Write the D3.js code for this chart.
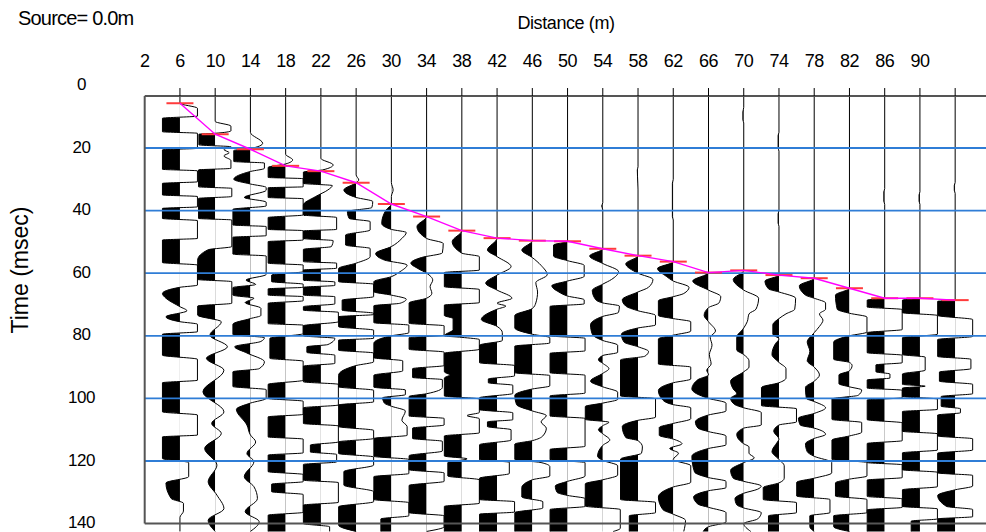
<!DOCTYPE html>
<html><head><meta charset="utf-8">
<script src="https://cdn.jsdelivr.net/npm/d3@7"></script>
<style>
body{margin:0;background:#fff}
svg{display:block}
text{font-family:"Liberation Sans",Arial,sans-serif;fill:#000}
</style>
</head><body>
<svg id="c" width="986" height="532"></svg>
<script>
// ---------- data ----------
const sourceLabel = "Source= 0.0m";
const xTitle = "Distance (m)";
const yTitle = "Time (msec)";
const distanceLabels = [2,6,10,14,18,22,26,30,34,38,42,46,50,54,58,62,66,70,74,78,82,86,90];
const traceDistances = [6,10,14,18,22,26,30,34,38,42,46,50,54,58,62,66,70,74,78,82,86,90,94];
const timeTicks = [0,20,40,60,80,100,120,140];
const gridTimes = [20,40,60,80,100,120];
const pickTimes = [5.7,15.6,20.4,25.7,27.4,31.1,37.9,41.9,46.4,48.8,49.6,49.8,52.2,54.4,56.3,59.8,59.1,60.6,61.6,64.8,68,68,68.6];
// waveform breakpoints per trace, "time(ms):normalised amplitude" (negative = left, filled)
const traceWaves = [
"3.4:0 5.7:0 7.3:1 9.8:1 10.5:-1 14.8:-1 15.3:1 20.1:1 20.6:-1 26.8:-1 27.3:1 30.8:1 31.3:-1 35:-1 35.5:1 38.8:1 39.3:-1 42.5:-1 43.2:1 48.9:1 49.4:-1 56.6:-1 57.4:1 63.8:1 64.5:0 66.5:-1 68:-0.8 70.7:0 72:0.4 73.9:-0.8 75.5:0 76.3:1 78.7:1 79.5:-1 86.2:-1 87.5:1 94.2:1 95:-1 104.3:-1 105.3:1 111.7:1 112.3:-1 119.2:-1 120.5:0.5 125:0.5 127:-0.8 132:-0.5 133.5:0.2 136:0.2 138:0 142.5:0",
"3.4:0 11.5:0 13:0.9 14.5:0.9 15.3:0 15.6:-0.93 19:-0.93 19.6:0.9 20.5:0.5 21.5:0.8 22.5:0.5 24:0.9 26.5:0.9 27:-0.95 32.4:-0.95 32.9:0.95 35.5:0.95 36.1:-0.95 42.5:-0.95 43:0.95 51.5:0.95 52.5:-0.4 55.8:-1 62:-1 62.7:0.95 69.6:0.95 70.5:-1 73.4:-1 75.5:0.35 79.8:-0.3 83.5:0.7 87.2:-0.5 91:0.5 97.9:-0.7 104.3:0.5 108:-0.2 111.2:0.35 116:-0.6 121.3:0.1 126.6:-0.4 130.9:0.1 135.2:0.5 138.9:-0.4 142.5:0",
"3.4:0 15:0 18.5:0.7 20.2:0 20.8:-0.95 24.3:-0.95 24.8:0.8 26.5:0.8 27.5:0 30:-0.95 31.5:0 32.6:0.9 33.5:0.9 35.8:-0.35 37.3:0.9 38.5:0.9 39.6:-1 44.6:-1 45.1:0.9 48:0.9 48.5:-1 53.9:-1 54.5:0.9 60.4:0.9 62.2:-0.25 63.6:0.3 64.6:-1 67:-1 68:0.2 69.4:-0.3 71.2:0.6 73.5:0.6 74.5:0 76.3:-1 79.6:-1 80.6:0.8 81.8:0.6 83.5:-0.9 85.5:-0.2 88.3:0.8 90.5:0.5 91.5:-1 96.2:-1 97.2:0.9 100:0.9 101.5:0 103.5:-0.8 108.5:-0.2 111.7:0 113.9:0.3 117.6:-0.2 120.2:0.2 125:-0.35 128.2:0.2 132:0.4 136.2:-0.3 139.4:0.5 142.5:0",
"3.4:0 22:0 23.8:0.4 25.1:0 26.2:-1 29.4:-1 29.8:1 32.4:1 32.7:-1 35.8:-1 36.2:1 41.4:1 42.2:-1 46:-1 46.4:1 49.4:1 49.9:-1 56.8:-1 57.4:1 59.5:1 60.6:-0.8 62.7:-0.8 63.5:1 64.5:1 65:-1 67:-1 67.5:1 68.8:1 69.6:-1 76.1:-1 76.6:1 79.3:1 80.8:-0.9 87.2:-0.9 88.1:1 94.2:1 95.5:-1 100:-1 100.9:1 105.1:1 105.9:-1 112.3:-1 113:1 117.4:1 118.1:-1 123.4:-1 124.3:1 126.6:1 127.4:-0.8 129.8:-0.8 130.7:1 136.4:1 137.3:-1 142.5:-1",
"3.4:0 23.3:0 25.4:0.7 27:0.1 27.7:-1 31.3:-1 32:0.65 33.4:0.4 35.5:-0.3 38.2:-1 41.4:-1 42.2:0.9 46:0.9 46.5:-1 48.9:-1 49.6:0.7 51.5:0.6 52.4:-1 56.3:-1 56.8:0.9 58.4:0.9 59:-1 62.2:-1 62.8:0.8 63.9:0.8 64.5:-1 67:-1 67.5:0.8 69.8:0.8 70.7:-1 71.8:-1 72.5:1 75.5:1 76.8:-1 80:-1 80.8:0.8 82.8:0.4 83.5:-0.8 85.3:-0.8 86.2:0.8 88.8:0.8 89.7:-1 94.7:-1 95.5:1 102.1:1 103:-1 108:-1 108.8:1 113.9:1 114.9:-0.6 117.1:-0.6 117.9:0.9 120.3:0.9 121.1:-1 126.1:-1 126.9:1 133.2:1 134.1:-1 140:-1 141:0.5 142.5:0.5",
"3.4:0 28.6:0 30.2:0.15 31.1:0 33.4:-0.7 35.8:0 37.1:0.95 39:0.9 40.3:-0.5 42.5:-0.4 43.5:0.8 46.2:0.8 47.8:-0.6 51:-0.6 52.1:0.8 54.7:0.8 56.8:0 58.5:-1 62.7:-1 63.5:1 67.5:1 68.6:-0.8 71.8:-0.8 72.8:1 73.2:1 73.9:-1 77.1:-1 78.2:1 80.8:1 81.4:-1 84.6:-1 85.5:1 88.3:1 89.5:0 92.6:-1 96.3:-1 97.4:1 101.1:1 102.1:-1 109:-1 110.2:1 112.8:1 113.9:-1 117.6:-1 118.7:1 121.3:1 123.4:-0.7 127.7:-0.7 129.8:1 133:1 134.6:-1 140.5:-1 142.5:0",
"3.4:0 31:0 33.4:0.1 35.5:0 37.9:0 39.8:-0.3 44.1:-0.55 46:0 47:0.85 48.9:0.6 51.5:0 53.7:-0.9 55.8:-0.4 57.4:0.9 59.5:0.5 61.1:0 62.7:-1 65.9:-1 67:0 68.3:0.85 69.6:0.5 70.4:-1 75.8:-1 76.6:1 79:1 80:0 82.4:-1 87:-1 88:0.65 91.2:0.65 92.6:-1 96.4:-1 97.3:0.8 98.8:0.8 99.8:-0.5 101.5:-0.4 102.5:0 104:0.8 107:0.6 109:0.9 111.8:0.9 112.8:-1 118.5:-1 119.5:1 124:1 125:-1 132.3:-1 133.3:1 137.5:1 138.5:-0.6 142.5:-0.6",
"3.4:0 41.9:0 45.1:-0.55 48.9:0 50.5:0.95 53.5:0.9 55:-0.3 56.8:-0.9 58.5:-0.5 60:0 62.2:0.35 64.3:0.2 66.4:0.3 68:0 69.5:-1 76:-1 76.8:1 79.8:1 80.6:-1 84.3:-1 85.2:1 89.5:1 90.5:-0.8 93.3:-0.8 94:0.9 96.5:0.9 98.5:0 99.4:-1 105.6:-1 106.4:1 108.5:1 109.5:-0.8 112.8:-0.8 113.7:0.9 116.8:0.9 118.3:-1 122.8:-1 123.8:1 126.5:1 127.8:-1 136.5:-1 137.5:1 141:1 142.5:0",
"3.4:0 46.4:0 49.9:-0.55 53.6:0 54.7:1 59:1 59.8:-1 64.3:-1 65.2:1 69.4:1 70.2:-1 73.5:-1 74.5:-0.5 78:-0.5 80:-1 80.5:0 81.2:1 84.3:1 85.6:-1 91.5:-1 92.5:-0.7 93.5:-1 99.2:-1 100.2:1 104.5:1 105.5:0.3 106.5:1 111:1 112:-1 118.4:-1 119.3:0.3 120.5:-0.8 124.8:-0.8 126:1 133.5:1 134.5:-1 142.5:-1",
"3.4:0 48.8:0 52.6:-0.55 54.7:0 57.9:0.8 60.6:0 63.2:-0.65 65.4:0 68:0.85 69.6:0 70.5:0.5 71.5:0 74.8:-0.9 77:0 79:0.3 81.5:0.3 83:-1 88.6:-1 89.5:1 92.8:1 93.8:-0.5 95:-0.5 95.8:0.9 98.4:0.9 99.8:-1 103.6:-1 104.6:0.9 106.8:0.9 107.5:-0.55 109:-0.55 110:0.8 113.3:0.8 114.8:-1 119.6:-1 120.4:0.7 124:0.7 125.5:-1 132.3:-1 133:1 136.3:1 137:-1 142.5:-1",
"3.4:0 49.6:0 52.6:-0.6 55:0 57.5:0.5 60.5:0.85 63:0.2 66:0.3 69.5:0.2 71.3:0 73.5:-1 77.5:-1 79.5:0 80.6:1 82.3:1 83.3:-1 91.8:-1 92.7:1 96:1 97:0 99:-1 102:-0.9 104:0 105.5:0.8 107.5:0.5 109.5:0.8 112:0.6 113.5:0 114.6:-1 119.5:-1 120.5:0.5 121.8:1 124.8:1 126:0 128.5:-0.6 131.5:-0.6 133:0.6 135:0.6 136.5:-1 142.5:-1",
"3.4:0 49.8:0 51:-0.8 54.5:-0.8 56:0 57.5:0.95 61:0.95 62.5:0 64:-0.9 66:-0.5 67.3:0 68.5:0.95 69.8:0.95 70.6:-1 80:-1 80.8:1 84.8:1 85.6:-1 91.8:-1 92.6:1 98.3:1 99.2:-1 105.6:-1 106.4:1 115.3:1 116.3:-1 119.6:-1 120.5:1 124.8:1 126.5:0 128:-0.7 130:-0.6 131:0 132:1 134.5:1 135.5:-1 142.5:-1",
"3.4:0 37.5:0 38.5:-0.06 39.8:0 52.2:0 54.5:-0.75 56.9:0 59.5:0.9 62:0.5 63.5:0 65.5:-0.6 68.5:-0.4 69.5:0 70.5:0.95 72.5:0.9 73.8:0 76.5:-0.7 79.5:-0.6 81.5:0 83:0.85 85.3:0.85 86.3:0 87.7:-0.25 88.8:0 90.5:0.35 92:0 94.5:-0.7 96.3:0 98:0.85 100.3:0.85 101.5:0 102.6:-1 106.7:-1 107.6:0.35 108.7:0 110:-0.25 111.3:0 113.3:0.4 115:0 118.5:-0.3 119.8:0 121.5:0.85 124.5:0.85 126:0 127.3:-1 134.4:-1 135.5:1 141.5:1 142.5:0.6",
"3.4:0 26:0 27:-0.04 29:-0.03 33.4:0 54.4:0 57:-0.7 60:0 62:0.85 64.5:0.6 66:0 68.5:-0.9 70.5:-0.7 72:0 73.5:1 76.5:1 77.5:0 79.5:-0.95 82:-0.8 83.5:0 85:0.6 86.5:0.4 87.7:-1 99.2:-1 100.1:1 106:1 107:0 109:-0.9 112.5:-0.7 113.5:0 115.5:0.25 117.5:0.2 119.4:-1 132.3:-1 133.2:1 136.5:1 137.5:-0.5 142.5:-0.5",
"3.4:0 30:0 31.3:-0.05 41.9:-0.05 43:0 56.3:0 58.5:-0.9 61:-0.4 62.5:0 64.5:0.9 66.5:0.6 67.5:0 68.8:-0.85 73.5:-0.85 74.5:0 75.5:1 78.5:1 79.8:0 81:-0.85 89:-0.85 90:1 93.8:1 95:0 97.5:-0.85 100.5:-0.6 102:0 103:1 106.5:1 108:0 109.3:-0.8 111.8:-0.8 113:0 114.5:0.5 116:-0.2 117.5:0.3 119.5:0 121.5:1 126.8:1 128.3:0 131.5:-0.85 135.5:-0.6 137:0 139:0.7 142.5:0.6",
"3.4:0 59.8:0 62.5:-0.9 65.4:0 67.5:0.7 69.5:0.6 71:0 73.5:-0.25 75.5:0 78.5:0.4 80.5:0.1 83:0.2 86:0.05 89:0.15 91:-0.1 92.5:0 94:-0.6 97:-0.95 100:0 101.5:1 104:1 105.3:0 107.5:-0.75 109.5:-0.6 110.6:0 112:1 114.8:1 116:0 118.5:-0.95 123.5:-0.8 125.3:0 126.5:1 128.5:1 129.5:0 131.5:-0.85 133.8:-0.6 134.8:0 136.5:1 139.5:1 141:0 142.5:-0.3",
"3.4:0 7:0 8.5:-0.05 11:-0.05 12:0 59.1:0 62:-0.6 65.4:0 68:0.85 71.5:0.7 73:0.3 75.5:0.2 77.5:0 80.5:-0.4 84.5:-0.4 86:0 88:0.3 90:0.3 91.5:0 94.5:-0.75 97:-0.6 98.5:-0.4 100:-0.75 102:-0.5 103:0 104.5:1 108.5:1 109.5:0 111.5:-0.4 113:-0.3 114.5:0 115.5:0.3 117.5:0.3 119:0.6 120.5:0 123:-0.75 125.5:-0.6 126.5:0 128:1 129:0.8 130.3:0 132:-0.5 134:-0.4 135:0 136.5:1 138.5:0.8 140:0 142.5:0.4",
"3.4:0 15:0 16:-0.05 20:-0.05 21:0 40:0 41:-0.05 44:-0.05 45:0 60.6:0 62.5:-0.8 65:-0.6 66:0 68:0.95 71.5:0.9 73:0.4 74.5:0 76.5:-0.35 79.5:-0.35 81:0 82.5:-0.2 86:-0.4 88.5:0 90.5:0.4 93.5:0.4 95:0 96.5:-1 102.3:-1 103.3:1 107.5:1 108.5:0 110.5:-0.3 113:0 114:-0.1 117:-0.4 119.5:0 121.5:0.3 125.5:0.3 127:0 128.5:-0.9 132.3:-0.9 133.3:1 136.5:1 137.5:-0.6 142.5:-0.6",
"3.4:0 61.6:0 64:-0.85 67:-0.5 68:0 69.5:0.65 71.5:0.65 73:0.3 75:0.5 77:0.3 79:0 82:-0.4 85:-0.25 88:-0.4 90:0 92.5:0.3 94.5:0 96.5:-0.5 100:-0.45 101:0 103:0.65 104.8:0 106.3:-0.9 108.5:-0.8 109.5:0 111.5:0.65 112.8:0 114.5:-0.5 117:-0.4 118.5:0 120.5:1 123.8:1 125.5:0 126.8:-1 131.2:-1 132.3:0.9 136.5:0.9 137.5:-0.25 141:-0.25 142.5:0",
"3.4:0 64.8:0 67:-0.8 71.5:-0.7 72.8:0 74:1 78.8:1 80:0 82:-0.9 87.5:-0.9 88.5:0 89.5:0.15 91.2:0 92.5:-0.6 95.3:-0.6 96.3:0 97.3:0.7 99:0.5 100.2:-1 106.7:-1 107.7:0.7 110.8:0.7 112:0 113.3:-1 119.5:-1 120.5:1 124.8:1 125.8:0 127:-0.8 131.2:-0.8 132.3:1 136.5:1 137.5:-0.9 141:-0.9 142.5:0",
"3.4:0 33:0 34:-0.05 37:-0.05 38:0 68:0 68.6:-1 70.8:-1 71.6:1 78:1 79:-1 85.4:-1 86.2:1 88.6:1 89.3:-0.5 91.5:-0.5 92.2:0.3 93.5:0.3 94.1:-1 96.7:-1 97.4:1 99.8:1 100.5:-1 106.8:-1 107.8:1 113.5:1 114.4:-1 120.5:-1 121.2:1 125.3:1 126.1:-1 131.3:-1 132.1:1 134.8:1 135.6:-1 142.5:-1",
"3.4:0 34:0 35:-0.05 37:-0.05 38:0 68:0 68.6:-1 72.6:-1 73.5:1 79.5:1 80.6:-1 86:-1 86.8:0.3 91:0.3 92.2:-1 95.5:-1 96.1:0.3 96.7:-1 99.4:-1 100.2:1 103.5:1 104.2:-1 110.5:-1 111.3:1 116.5:1 117.4:-1 122.8:-1 123.6:1 128.2:1 129.2:-1 134.5:-1 135.3:1 138.5:1 139.2:-0.5 142.5:-0.5",
"3.4:0 31:0 32:-0.05 33.5:-0.05 34.5:0 68.6:0 69:-1 73.5:-1 74.8:1 80.2:1 81.2:-1 86.6:-1 87.5:0.9 90.5:0.9 91.6:-0.9 94.5:-0.9 95.5:1 98.5:1 99.4:-0.8 102.5:-0.8 103.3:0.3 104.6:0.3 105.3:-1 112:-1 112.9:1 116.5:1 117.5:-1 123.8:-1 124.6:1 128:1 129.2:0 131:-1 134.5:-0.5 135.5:1 137.8:1 138.5:-1 142.5:-1"
];
const recordStart = 3.4;

// ---------- scales ----------
const svg = d3.select("#c");
const x = d3.scaleLinear().domain([2, 97.5]).range([144.7, 986]);
const y = d3.scaleLinear().domain([0, 140]).range([85.4, 523.6]);
const amp = d3.scaleLinear().domain([-1, 1]).range([-17.5, 17.5]);
const parse = s => s.trim().split(/\s+/).map(p => p.split(":").map(Number));

const defs = svg.append("defs");

// ---------- traces ----------
const gTr = svg.append("g");
traceDistances.forEach((d, i) => {
  const base = x(d);
  const pts = parse(traceWaves[i]);
  const line = d3.line().x(p => base + amp(p[1])).y(p => y(p[0])).curve(d3.curveMonotoneY);
  const lp = line(pts);
  const id = "cl" + i;
  defs.append("clipPath").attr("id", id).append("rect")
    .attr("x", base - 20).attr("y", 0).attr("width", 20).attr("height", 532);
  gTr.append("path")
    .attr("d", lp + `L${base},${y(pts[pts.length-1][0])}L${base},${y(pts[0][0])}Z`)
    .attr("fill", "#000").attr("clip-path", `url(#${id})`);
  gTr.append("path").attr("d", lp).attr("fill", "none").attr("stroke", "#000").attr("stroke-width", 1);
});

// ---------- grid ----------
svg.append("g").selectAll("line").data(gridTimes).join("line")
  .attr("x1", x(2)).attr("x2", 986).attr("y1", d => y(d)).attr("y2", d => y(d))
  .attr("stroke", "#2f7dd6").attr("stroke-width", 1.8);

// ---------- frame ----------
const fr = svg.append("g").attr("stroke", "#555").attr("stroke-width", 2).attr("fill", "none");
fr.append("line").attr("x1", x(2)).attr("x2", 986).attr("y1", y(recordStart)).attr("y2", y(recordStart));
fr.append("line").attr("x1", x(2)).attr("x2", 986).attr("y1", y(140)).attr("y2", y(140));
fr.append("line").attr("x1", x(2)).attr("x2", x(2)).attr("y1", y(recordStart)).attr("y2", y(140));
svg.append("g").selectAll("line").data(traceDistances).join("line")
  .attr("x1", d => x(d)).attr("x2", d => x(d)).attr("y1", y(recordStart) - 8).attr("y2", y(recordStart))
  .attr("stroke", "#000").attr("stroke-width", 1);

// ---------- picks ----------
const picks = traceDistances.map((d, i) => [d, pickTimes[i]]);
svg.append("g").selectAll("line").data(picks).join("line")
  .attr("x1", p => x(p[0]) - 13.5).attr("x2", p => x(p[0]) + 13.5)
  .attr("y1", p => y(p[1])).attr("y2", p => y(p[1]))
  .attr("stroke", "#ff3b3b").attr("stroke-width", 2);
svg.append("path").datum(picks)
  .attr("d", d3.line().x(p => x(p[0])).y(p => y(p[1])))
  .attr("fill", "none").attr("stroke", "#ff00ff").attr("stroke-width", 1.4);

// ---------- text ----------
svg.append("text").attr("x", 18).attr("y", 25).attr("font-size", 20).attr("letter-spacing", -0.8).text(sourceLabel);
svg.append("text").attr("x", 566).attr("y", 28.5).attr("text-anchor", "middle").attr("font-size", 18).attr("letter-spacing", -0.4).text(xTitle);
svg.append("g").selectAll("text").data(distanceLabels).join("text")
  .attr("x", d => x(d)).attr("y", 66.5).attr("text-anchor", "middle").attr("font-size", 18).attr("letter-spacing", -0.5)
  .text(d => d);
svg.append("g").selectAll("text").data(timeTicks).join("text")
  .attr("x", 81.5).attr("y", d => y(d) + 4.5).attr("text-anchor", "middle").attr("font-size", 17).attr("letter-spacing", -0.5)
  .text(d => d);
svg.append("text").attr("transform", "translate(28,270) rotate(-90)").attr("text-anchor", "middle")
  .attr("font-size", 23).text(yTitle);
</script>
</body></html>
